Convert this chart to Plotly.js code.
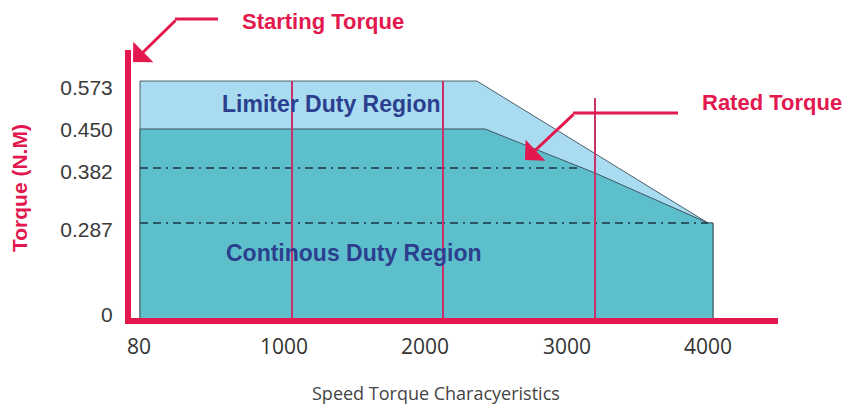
<!DOCTYPE html>
<html>
<head>
<meta charset="utf-8">
<script src="https://cdn.plot.ly/plotly-3.0.1.min.js"></script>
<style>html,body{margin:0;padding:0;background:#fff;}#chart{width:848px;height:407px;}</style>
</head>
<body>
<div id="chart"></div>
<script>
// Tick labels (positions as drawn in the picture)
const speedTickText = ['80', '1000', '2000', '3000', '4000'];
const speedTickPos = [73, 1065, 2030, 3002, 3966];
const torqueTickText = ['0', '0.287', '0.382', '0.450', '0.573'];
const torqueTickPos = [0.007, 0.213, 0.353, 0.4545, 0.556];

// Limiter duty region outline (speed, torque)
const limiterSpeed = [80, 80, 2385, 3966, 4000, 4000];
const limiterTorque = [0, 0.573, 0.573, 0.2297, 0.2297, 0];

// Continuous duty region outline
const contSpeed = [80, 80, 2440, 3193, 3966, 4000, 4000];
const contTorque = [0, 0.457, 0.457, 0.3506, 0.2297, 0.2297, 0];

// Dash-dot reference levels
const rated1Speed = [80, 3104];
const rated1Torque = [0.3627, 0.3627];
const rated2Speed = [80, 3966];
const rated2Torque = [0.2297, 0.2297];

// Vertical marker lines
const markerSpeed = [1120, 2153, 3193];
const markerTop = [0.573, 0.573, 0.532];

const RED = '#e2184e';
const traces = [
  {x: limiterSpeed, y: limiterTorque, type: 'scatter', mode: 'lines', fill: 'toself',
   fillcolor: '#a9dbf1', line: {color: '#4d6069', width: 1}},
  {x: contSpeed, y: contTorque, type: 'scatter', mode: 'lines', fill: 'toself',
   fillcolor: '#5ebfcc', line: {color: '#3f5660', width: 1}},
  {x: rated1Speed, y: rated1Torque, type: 'scatter', mode: 'lines',
   line: {color: '#1d3440', width: 1.6, dash: '8px,5px,8px,5px,2px,5px'}},
  {x: rated2Speed, y: rated2Torque, type: 'scatter', mode: 'lines',
   line: {color: '#1d3440', width: 1.6, dash: '8px,5px,8px,5px,2px,5px'}}
];
markerSpeed.forEach(function (s, i) {
  traces.push({x: [s, s], y: [0, markerTop[i]], type: 'scatter', mode: 'lines',
    line: {color: '#c9306a', width: 2}});
});

// pixel -> paper helpers for the decorative call-outs
const L = 131, W = 647, B = 318, H = 268;
function px(x) { return (x - L) / W; }
function py(y) { return (B - y) / H; }
const FONT = 'Liberation Sans, Arial, sans-serif';

function label(text, x, y, size, color, extra) {
  return Object.assign({text: text, xref: 'paper', yref: 'paper', x: px(x), y: py(y),
    xanchor: 'center', yanchor: 'middle', showarrow: false,
    font: {family: FONT, size: size, color: color}}, extra || {});
}

const layout = {
  width: 848, height: 407,
  margin: {l: L, r: 848 - L - W, t: 50, b: 407 - B, pad: 0},
  paper_bgcolor: '#ffffff', plot_bgcolor: '#ffffff',
  showlegend: false, hovermode: false,
  xaxis: {range: [18.4, 4444.8], showgrid: false, zeroline: false,
    showline: true, linecolor: RED, linewidth: 6,
    tickmode: 'array', tickvals: speedTickPos, ticktext: speedTickText,
    ticks: '', ticklabelstandoff: 5,
    tickfont: {family: 'Open Sans, sans-serif', size: 21, color: '#333333'}},
  yaxis: {range: [0, 0.648], showgrid: false, zeroline: false,
    showline: true, linecolor: RED, linewidth: 6,
    tickmode: 'array', tickvals: torqueTickPos, ticktext: torqueTickText,
    ticks: '', ticklabelstandoff: 8,
    tickfont: {family: FONT, size: 21, color: '#3a3a3a'}},
  shapes: [
    {type: 'line', xref: 'paper', yref: 'paper', x0: px(175), x1: px(218), y0: py(19), y1: py(19),
     line: {color: RED, width: 3}},
    {type: 'line', xref: 'paper', yref: 'paper', x0: px(573), x1: px(678), y0: py(113), y1: py(113),
     line: {color: RED, width: 3}}
  ],
  annotations: [
    label('<b>Starting Torque</b>', 323, 22, 22, RED),
    label('<b>Rated Torque</b>', 772, 102, 22, RED),
    {text: '', xref: 'paper', yref: 'paper', x: px(133), y: py(62), ax: 44, ay: -43,
     showarrow: true, arrowhead: 1, arrowsize: 1.6, arrowwidth: 3, arrowcolor: RED},
    {text: '', xref: 'paper', yref: 'paper', x: px(525), y: py(160), ax: 50, ay: -47,
     showarrow: true, arrowhead: 1, arrowsize: 1.6, arrowwidth: 3, arrowcolor: RED},
    {text: '<b>Limiter Duty Region</b>', x: 1387, y: 0.5174, xref: 'x', yref: 'y',
     xanchor: 'center', yanchor: 'middle',
     showarrow: false, font: {family: FONT, size: 23, color: '#2b3f8e'}},
    {text: '<b>Continous Duty Region</b>', x: 1544, y: 0.157, xref: 'x', yref: 'y',
     xanchor: 'center', yanchor: 'middle',
     showarrow: false, font: {family: FONT, size: 23, color: '#2b3f8e'}},
    label('Speed Torque Characyeristics', 436, 393, 18, '#444444', {font: {family: 'Open Sans, sans-serif', size: 18, color: '#444444'}}),
    label('<b>Torque (N.M)</b>', 19, 188, 21, RED, {textangle: -90})
  ]
};

Plotly.newPlot('chart', traces, layout, {staticPlot: true, displayModeBar: false});
</script>
</body>
</html>
